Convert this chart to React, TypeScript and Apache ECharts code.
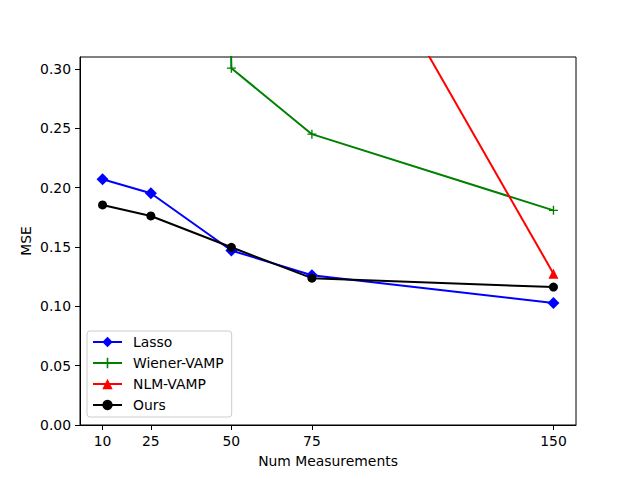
import React, { useEffect, useRef } from "react";
import * as echarts from "echarts";

const xTicks = [10, 25, 50, 75, 150];
const yTicks = [0, 0.05, 0.1, 0.15, 0.2, 0.25, 0.3];

const lassoX = [10, 25, 50, 75, 150];
const lassoY = [0.207, 0.1952, 0.147, 0.1262, 0.1027];

const wienerX = [25, 50, 75, 150];
const wienerY = [3.5, 0.3006, 0.245, 0.1808];

const nlmX = [75, 150];
const nlmY = [0.483, 0.1275];

const oursX = [10, 25, 50, 75, 150];
const oursY = [0.1854, 0.1761, 0.1497, 0.1237, 0.1162];

const FONT = "DejaVu Sans";
const PLUS =
  "path://M-1,-0.15H-0.15V-1H0.15V-0.15H1V0.15H0.15V1H-0.15V0.15H-1Z";

function pairs(xs: number[], ys: number[]) {
  return xs.map((x, i) => [x, ys[i]]);
}

export default function App() {
  const ref = useRef<HTMLDivElement>(null);
  useEffect(() => {
    if (!ref.current) return;
    const chart = echarts.init(ref.current, null, { renderer: "svg" });
    const mk = (name: string, xs: number[], ys: number[], color: string, symbol: string, size: number) => ({
      name,
      type: "line",
      data: pairs(xs, ys),
      symbol,
      symbolSize: size,
      clip: true,
      lineStyle: { color, width: 2 },
      itemStyle: { color, borderWidth: 0 },
      emphasis: { disabled: true },
    });
    chart.setOption({
      animation: false,
      backgroundColor: "#ffffff",
      textStyle: { fontFamily: FONT },
      grid: {
        left: 80,
        right: 64,
        top: 57,
        bottom: 53,
        show: true,
        borderColor: "#000",
        borderWidth: 1,
        backgroundColor: "transparent",
        outerBoundsMode: "none",
      },
      xAxis: {
        type: "value",
        min: 3,
        max: 157,
        name: "Num Measurements",
        nameLocation: "middle",
        nameGap: 29,
        nameMoveOverlap: false,
        nameTextStyle: { color: "#000", fontSize: 13.9, fontFamily: FONT },
        axisLine: { show: true, lineStyle: { color: "#000", width: 1 } },
        axisTick: { show: true, length: 5, customValues: xTicks, lineStyle: { color: "#000" } },
        axisLabel: { color: "#000", fontSize: 13.9, fontFamily: FONT, margin: 9, customValues: xTicks },
        splitLine: { show: false },
      },
      yAxis: {
        type: "value",
        min: 0,
        max: 0.31,
        name: "MSE",
        nameLocation: "middle",
        nameGap: 47,
        nameMoveOverlap: false,
        nameTextStyle: { color: "#000", fontSize: 13.9, fontFamily: FONT },
        axisLine: { show: true, lineStyle: { color: "#000", width: 1 } },
        axisTick: { show: true, length: 5, customValues: yTicks, lineStyle: { color: "#000" } },
        axisLabel: {
          color: "#000",
          fontSize: 13.9,
          fontFamily: FONT,
          margin: 9,
          customValues: yTicks,
          formatter: (v: number) => v.toFixed(2),
        },
        splitLine: { show: false },
      },
      legend: {
        orient: "vertical",
        left: 87,
        top: 331,
        padding: [4, 8, 5, 5],
        itemWidth: 29,
        itemHeight: 13,
        itemGap: 7,
        backgroundColor: "rgba(255,255,255,0.8)",
        borderColor: "#cccccc",
        borderWidth: 1,
        borderRadius: 3,
        textStyle: { color: "#000", fontSize: 13.9, fontFamily: FONT, lineHeight: 14, padding: [0, 0, 0, 6] },
        data: ["Lasso", "Wiener-VAMP", "NLM-VAMP", "Ours"],
      },
      series: [
        mk("Lasso", lassoX, lassoY, "#0000ff", "diamond", 12),
        mk("Wiener-VAMP", wienerX, wienerY, "#008000", PLUS, 9),
        mk("NLM-VAMP", nlmX, nlmY, "#ff0000", "triangle", 10),
        mk("Ours", oursX, oursY, "#000000", "circle", 9),
      ],
    });
    return () => chart.dispose();
  }, []);
  return (
    <div
      ref={ref}
      style={{ position: "absolute", left: 0, top: 0, width: 640, height: 478, background: "#fff" }}
    />
  );
}
